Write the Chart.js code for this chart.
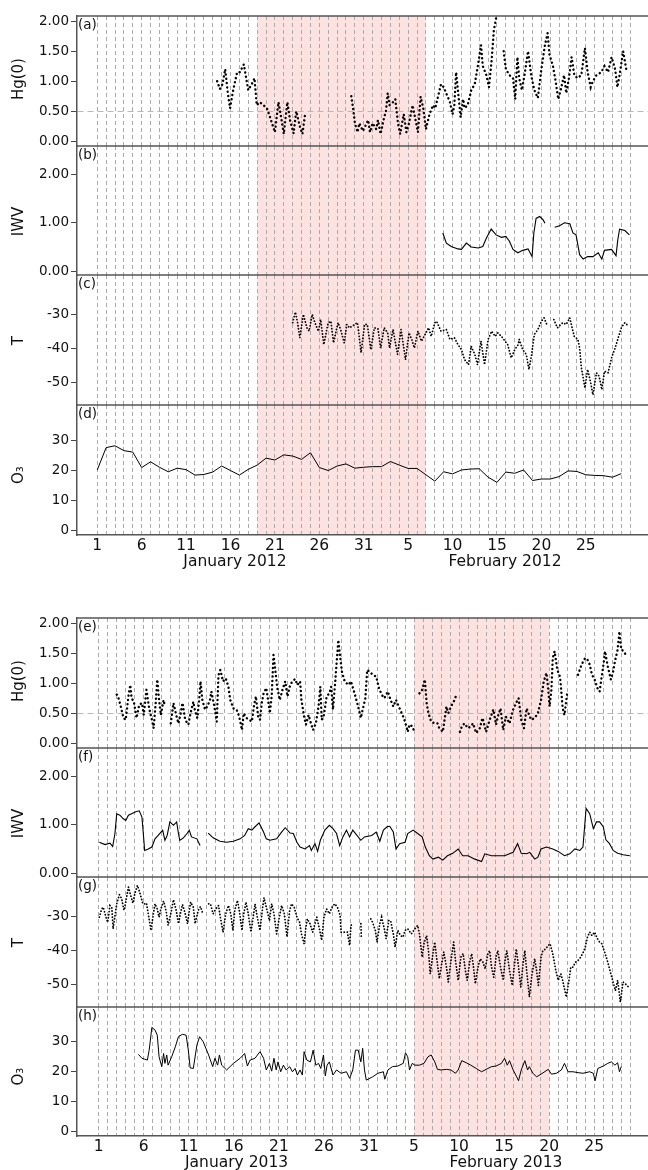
<!DOCTYPE html>
<html>
<head>
<meta charset="utf-8">
<script src="https://cdn.jsdelivr.net/npm/chart.js"></script>
<style>
  html, body { margin: 0; padding: 0; background: #fff; }
  #wrap { position: relative; width: 648px; height: 1170px; overflow: hidden; background: #fff; }
  #wrap canvas { position: absolute; left: 0; }
</style>
</head>
<body>
<div id="wrap"></div>
<script>
// x = days since 1 January (0 = Jan 1), null = gap in the record

// ---- 2012 ----
const hgDays2012 = [
  13.5,13.8,14.1,14.4,14.7,14.95,15.3,15.75,16.06,16.5,
  17.0,17.4,17.7,17.95,18.3,18.7,19.1,19.45,20.0,20.4,
  20.75,21.0,21.4,21.7,22.1,22.4,22.8,23.1,23.4,26.0,
  28.6,28.8,29.0,29.3,29.5,29.9,30.5,30.7,31.0,31.4,
  31.6,31.9,32.3,32.5,32.7,32.9,33.3,33.55,33.85,34.1,
  34.5,34.8,35.1,35.5,35.9,36.1,36.4,36.7,37.0,37.4,
  37.8,38.05,38.7,39.0,39.7,39.85,40.0,40.2,40.4,40.6,
  40.9,41.2,41.35,41.7,42.1,42.5,42.9,43.2,43.4,43.8,
  44.1,44.4,44.65,44.9,45.3,45.75,46.0,46.4,46.8,47.05,
  47.3,47.5,47.8,48.1,48.5,48.85,49.2,49.6,50.0,50.4,
  50.7,50.9,51.3,51.6,51.9,52.25,52.55,52.8,53.1,53.4,
  53.7,54.05,54.5,54.9,55.2,55.55,55.8,56.2,56.75,57.1,
  57.5,57.9,58.3,58.55,58.8,59.2,59.55,59.8];
const hgVals2012 = [
  1.00,0.87,0.95,1.20,0.80,0.55,0.85,1.15,1.15,1.28,
  0.85,0.95,1.05,0.60,0.65,0.60,0.55,0.40,0.15,0.65,
  0.35,0.12,0.65,0.35,0.13,0.50,0.25,0.12,0.45,null,
  0.75,0.55,0.30,0.15,0.30,0.17,0.35,0.15,0.30,0.20,
  0.35,0.12,0.40,0.50,0.80,0.60,0.65,0.70,0.30,0.12,
  0.45,0.15,0.30,0.60,0.30,0.15,0.74,0.55,0.20,0.45,
  0.60,0.55,0.95,0.90,0.65,0.55,0.45,0.60,1.15,0.85,
  0.40,0.70,0.55,0.60,0.85,0.95,1.30,1.60,1.25,1.10,
  0.90,1.35,1.85,2.05,null,1.50,1.20,1.10,1.05,0.70,
  1.40,1.05,0.85,1.10,1.50,1.10,0.85,0.72,1.20,1.60,
  1.80,1.45,1.25,1.00,0.70,0.90,1.10,0.80,1.05,1.40,
  1.10,1.05,1.10,1.55,1.15,0.90,1.00,1.10,1.15,1.25,
  1.15,1.40,1.20,0.90,1.10,1.50,1.20,1.25];

const iwvDays2012 = [
  38.9,39.3,39.85,40.6,41.0,41.55,42.1,42.9,43.4,43.8,
  44.35,44.9,45.5,46.0,46.4,46.8,47.35,47.9,48.5,48.95,
  49.15,49.4,49.8,50.2,50.4,51.0,51.5,52.05,52.6,53.2,
  53.55,53.9,54.3,54.7,55.2,55.8,56.4,56.8,57.1,57.9,
  58.4,58.6,58.8,59.4,59.9];
const iwvVals2012 = [
  0.79,0.58,0.51,0.46,0.45,0.58,0.50,0.48,0.51,0.68,
  0.87,0.75,0.70,0.72,0.62,0.45,0.38,0.43,0.46,0.30,
  0.79,1.09,1.13,1.06,0.99,null,0.91,0.94,1.00,0.98,
  0.79,0.75,0.34,0.25,0.30,0.30,0.38,0.25,0.43,0.45,
  0.32,0.65,0.87,0.84,0.75];

const tDays2012 = [
  22.0,22.3,22.55,22.8,23.2,23.6,23.85,24.2,24.5,24.9,
  25.15,25.5,26.0,26.3,26.6,27.1,27.4,27.8,28.1,28.4,
  29.0,29.3,29.7,30.1,30.4,30.8,31.2,31.6,31.9,32.3,
  32.7,32.9,33.3,33.8,34.2,34.7,35.1,35.4,35.7,36.1,
  36.5,36.9,37.3,37.6,38.0,38.2,38.7,39.3,39.7,40.2,
  40.6,41.0,41.35,41.8,42.1,42.5,42.8,43.2,43.6,44.0,
  44.4,44.8,45.1,45.5,45.9,46.2,46.6,47.0,47.4,47.5,
  47.9,48.3,48.6,48.9,49.2,49.6,50.0,50.3,50.6,51.0,
  51.4,51.8,52.4,52.8,53.2,53.55,53.7,54.1,54.3,54.5,
  54.9,55.2,55.55,55.8,56.2,56.5,56.8,57.1,57.5,57.9,
  58.3,58.7,59.0,59.4,59.8];
const tVals2012 = [
  -32.4,-29.3,-32.4,-36.8,-30.0,-33.9,-34.9,-30.0,-32.4,-34.9,
  -31.5,-38.8,-32.4,-32.0,-38.3,-32.4,-34.4,-38.3,-32.9,-33.9,
  -32.9,-32.4,-41.2,-32.9,-32.9,-40.3,-33.9,-34.2,-39.8,-33.9,
  -35.4,-39.8,-34.4,-41.7,-34.4,-43.2,-35.4,-37.3,-39.8,-34.9,
  -37.8,-35.9,-33.9,-36.4,-32.4,-32.0,-34.9,-34.4,-37.3,-36.8,
  -38.8,-40.3,-43.2,-44.7,-39.3,-41.7,-44.7,-37.8,-44.7,-37.3,
  -34.9,-36.4,-35.4,-36.4,-37.8,-38.8,-42.7,-40.3,-38.8,-37.3,
  -40.3,-41.7,-46.1,-41.7,-35.9,-34.4,-32.0,-31.0,-32.9,null,
  -31.5,-33.9,-32.4,-32.9,-31.0,-34.9,-36.4,-37.3,-39.8,-45.6,
  -51.5,-46.1,-50.0,-53.5,-47.1,-48.1,-52.0,-46.6,-47.1,-42.7,
  -39.8,-36.4,-33.9,-32.4,-33.4];

// daily ozone, one value per day from 1 Jan
const o3Vals2012 = [
  20.1,27.5,28.1,26.5,26.0,20.9,22.8,21.0,19.5,20.7,
  20.2,18.4,18.6,19.4,21.4,19.9,18.4,20.3,21.7,24.0,
  23.4,25.1,24.7,23.6,25.8,20.9,19.9,21.4,22.1,20.7,
  21.0,21.2,21.2,22.9,21.7,20.6,20.6,18.5,16.4,19.5,
  18.8,20.1,20.4,20.5,17.7,16.0,19.4,19.0,20.1,16.6,
  17.1,17.1,17.9,19.8,19.6,18.5,18.3,18.2,17.7,18.9];

// ---- 2013 ----
const hgDays2013 = [
  2.0,2.2,2.45,2.75,3.0,3.3,3.5,3.65,3.9,4.2,
  4.5,4.8,5.0,5.3,5.6,5.9,6.1,6.35,6.5,6.7,
  6.9,7.2,7.35,7.7,8.0,8.3,8.6,8.85,9.1,9.3,
  9.6,9.95,10.2,10.5,10.7,10.95,11.15,11.3,11.5,11.8,
  12.05,12.35,12.5,12.8,13.1,13.3,13.5,13.8,14.1,14.4,
  14.6,14.95,15.3,15.6,15.9,16.1,16.4,16.7,17.0,17.25,
  17.45,17.7,17.9,18.1,18.3,18.6,18.8,19.0,19.2,19.4,
  19.6,19.8,20.1,20.4,20.7,20.95,21.25,21.5,21.8,22.05,
  22.35,22.5,22.8,23.0,23.3,23.5,23.8,24.1,24.4,24.6,
  24.75,25.0,25.3,25.6,25.8,26.0,26.2,26.6,26.75,27.0,
  27.3,27.7,28.0,28.4,28.8,29.1,29.3,29.6,29.8,30.1,
  30.4,30.8,31.1,31.4,31.7,32.1,32.4,32.7,33.0,33.4,
  33.8,34.0,34.3,34.5,34.8,35.1,35.35,35.6,35.9,36.2,
  36.4,36.6,36.9,37.3,37.6,37.8,38.2,38.6,38.8,39.1,
  39.5,39.7,39.9,40.1,40.3,40.6,41.0,41.3,41.55,41.9,
  42.3,42.6,43.0,43.4,43.8,44.1,44.3,44.6,44.9,45.2,
  45.6,46.0,46.4,46.6,46.9,47.2,47.5,47.7,48.0,48.4,
  48.75,49.1,49.4,49.7,49.9,50.05,50.25,50.4,50.6,50.9,
  51.2,51.35,51.5,51.7,52.0,52.2,52.7,53.2,53.6,54.0,
  54.25,54.5,54.75,55.05,55.35,55.6,55.8,56.1,56.2,56.5,
  56.85,57.1,57.3,57.6,57.8,58.0,58.3,58.6];
const hgVals2013 = [
  0.81,0.75,0.61,0.42,0.39,0.78,0.97,0.75,0.69,0.42,
  0.64,0.67,0.47,0.89,0.58,0.39,0.25,0.72,1.06,0.72,
  0.47,0.72,0.61,null,0.33,0.67,0.47,0.33,0.50,0.67,
  0.39,0.31,0.50,0.69,0.53,0.42,0.72,1.03,0.72,0.56,
  0.61,0.72,0.86,0.64,0.36,1.14,1.22,1.03,1.08,0.94,
  0.72,0.58,0.56,0.44,0.22,0.50,0.42,0.39,0.36,0.64,
  0.78,0.44,0.39,0.67,0.83,0.92,0.72,0.50,0.78,1.47,
  1.22,0.94,0.72,0.89,1.03,0.78,0.97,1.03,1.07,0.97,
  1.03,0.72,0.44,0.31,0.47,0.36,0.22,0.33,0.61,0.94,
  0.39,0.47,0.78,0.83,0.94,0.56,0.92,1.72,1.50,1.19,
  1.03,0.97,1.03,0.83,0.61,0.42,0.56,0.75,1.22,1.19,
  1.14,1.11,0.92,0.81,0.75,0.86,0.72,0.61,0.72,0.58,
  0.44,0.36,0.19,0.31,0.28,0.17,null,0.83,0.89,1.06,
  0.67,0.50,0.36,0.33,0.33,0.25,0.19,0.61,0.50,0.61,
  0.72,0.81,null,0.19,0.28,0.33,0.25,0.28,0.33,0.17,
  0.25,0.42,0.19,0.39,0.56,0.31,0.44,0.58,0.22,0.44,
  0.33,0.56,0.69,0.75,0.39,0.25,0.58,0.50,0.39,0.42,
  0.50,0.72,1.03,1.17,0.89,0.61,0.89,1.42,1.53,1.22,
  1.11,0.86,0.58,0.47,0.83,0.86,null,1.14,1.31,1.42,
  1.39,1.31,1.14,1.06,0.92,0.86,1.08,1.39,1.53,1.28,
  1.06,1.19,1.36,1.56,1.86,1.56,1.53,1.44];

const iwvDays2013 = [
  0.07,0.7,1.25,1.55,1.8,2.0,2.35,2.7,3.0,3.3,
  3.65,4.1,4.5,4.8,4.95,5.1,5.5,5.9,6.25,6.6,
  7.1,7.35,7.6,7.9,8.3,8.65,8.85,9.0,9.4,9.8,
  10.05,10.3,10.9,11.25,11.7,12.15,12.7,13.45,14.2,14.95,
  15.7,16.2,16.6,17.0,17.35,17.8,18.3,18.6,19.0,19.75,
  20.3,20.7,21.25,21.6,22.0,22.35,22.9,23.4,23.6,24.0,
  24.3,24.6,25.1,25.6,26.0,26.4,26.75,27.1,27.5,27.85,
  28.2,29.1,29.5,30.3,30.8,31.2,31.6,32.0,32.3,32.7,
  33.0,33.4,34.0,34.3,34.9,35.4,35.9,36.25,36.7,37.1,
  37.7,38.2,38.7,39.3,39.9,40.4,41.0,41.75,42.5,42.85,
  43.6,44.3,45.05,45.6,46.0,46.5,46.9,47.5,47.85,48.4,
  48.75,49.1,49.7,50.4,51.0,51.7,52.3,52.85,53.4,53.75,
  54.1,54.5,54.9,55.25,55.6,56.0,56.3,56.7,57.1,57.6,
  58.2,58.95];
const iwvVals2013 = [
  0.64,0.59,0.62,0.55,0.82,1.23,1.20,1.13,1.09,1.20,
  1.23,1.27,1.29,1.16,0.82,0.47,0.50,0.54,0.71,0.78,
  0.89,0.68,0.78,1.06,0.99,1.06,0.82,0.68,0.73,0.82,
  0.89,0.75,0.71,0.57,null,0.83,0.73,0.66,0.64,0.66,
  0.71,0.78,0.92,0.89,0.96,1.04,0.85,0.71,0.68,0.71,
  0.85,0.94,0.83,0.82,0.64,0.54,0.50,0.57,0.47,0.61,
  0.45,0.68,0.89,0.99,0.92,0.82,0.57,0.75,0.89,0.75,
  0.89,0.68,0.75,0.78,0.85,0.66,0.89,0.96,0.97,0.85,
  0.50,0.61,0.64,0.82,0.89,0.82,0.75,0.54,0.36,0.29,
  0.33,0.27,0.36,0.41,0.50,0.36,0.36,0.29,0.24,0.40,
  0.36,0.36,0.36,0.40,0.43,0.61,0.41,0.40,0.43,0.29,
  0.33,0.50,0.54,0.50,0.45,0.36,0.40,0.50,0.47,0.54,
  1.34,1.23,0.92,1.06,1.06,0.96,0.69,0.61,0.47,0.41,
  0.38,0.36];

const tDays2013 = [
  0.07,0.33,0.5,0.8,1.0,1.25,1.45,1.6,2.0,2.3,
  2.55,2.8,3.0,3.3,3.5,3.8,4.0,4.3,4.6,4.9,
  5.1,5.3,5.5,5.8,6.1,6.25,6.5,6.7,6.9,7.2,
  7.5,7.7,8.0,8.3,8.6,8.85,9.1,9.3,9.6,9.85,
  10.2,10.5,10.7,11.05,11.3,11.55,11.9,12.2,12.4,12.7,
  13.0,13.3,13.5,13.8,14.1,14.4,14.65,14.9,15.1,15.4,
  15.6,15.9,16.1,16.35,16.6,16.9,17.2,17.35,17.6,17.9,
  18.2,18.35,18.6,18.95,19.2,19.45,19.75,20.05,20.3,20.6,
  20.9,21.2,21.4,21.7,22.0,22.3,22.5,22.8,23.0,23.15,
  23.45,23.75,24.0,24.2,24.5,24.75,25.0,25.3,25.6,25.9,
  26.2,26.5,26.8,26.9,27.6,27.85,28.0,28.2,28.6,29.1,
  29.15,29.7,30.2,30.4,30.7,30.9,31.2,31.4,31.7,31.9,
  32.2,32.4,32.7,32.9,33.2,33.5,33.8,34.0,34.3,34.7,
  35.1,35.4,35.6,35.9,36.1,36.4,36.6,36.8,37.1,37.3,
  37.5,37.8,38.1,38.3,38.6,38.8,39.1,39.4,39.6,39.9,
  40.2,40.45,40.7,40.9,41.2,41.4,41.6,41.8,42.1,42.35,
  42.65,42.9,43.2,43.4,43.6,43.85,44.1,44.3,44.6,44.9,
  45.1,45.3,45.6,45.9,46.2,46.35,46.6,46.85,47.1,47.3,
  47.5,47.8,48.1,48.4,48.6,48.8,49.1,49.3,49.6,49.9,
  50.1,50.4,50.7,51.0,51.3,51.5,51.9,52.2,52.4,52.65,
  52.9,53.2,53.5,53.8,54.0,54.25,54.5,54.75,55.05,55.35,
  55.6,55.85,56.1,56.4,56.7,56.95,57.2,57.35,57.6,57.9,
  58.2,58.45,58.75,59.0];
const tVals2013 = [
  -30.2,-27.8,-27.3,-30.2,-31.7,-26.8,-27.3,-33.6,-26.3,-23.6,
  -24.8,-28.2,-25.8,-21.4,-23.4,-26.1,-23.4,-20.9,-23.4,-26.3,
  -26.3,-26.1,-29.2,-34.1,-28.7,-26.3,-27.8,-30.2,-27.8,-25.5,
  -28.7,-32.6,-29.2,-25.1,-28.2,-32.1,-28.7,-26.5,-29.2,-32.1,
  -25.8,-27.3,-32.1,-28.2,-27.1,-29.2,null,-26.3,-26.3,-29.2,
  -27.8,-26.8,-30.2,-34.6,-29.2,-26.8,-29.2,-34.1,-28.2,-25.3,
  -28.2,-34.1,-29.2,-25.8,-29.2,-34.6,-29.2,-26.3,-30.2,-34.1,
  -27.3,-24.5,-27.3,-31.2,-26.3,-29.2,-35.1,-30.2,-26.8,-29.2,
  -36.0,-28.2,-26.3,-27.3,-30.2,-31.7,-35.1,-38.0,-33.1,-30.7,
  -32.1,-34.6,-32.1,-30.2,-33.6,-37.0,-30.2,-27.8,-29.2,-27.3,
  -26.3,-27.3,-29.7,-34.6,-34.6,-38.5,-32.6,-32.1,null,-32.1,
  -36.0,null,-30.7,-31.7,-34.1,-37.5,-32.1,-30.2,-33.6,-36.5,
  -31.2,-31.2,-35.1,-39.0,-34.1,-35.6,-36.0,-34.1,-33.6,-35.1,
  -33.6,-32.6,-35.1,-41.9,-38.0,-35.6,-40.0,-46.8,-40.9,-37.5,
  -41.9,-48.2,-43.4,-40.4,-44.8,-49.2,-42.9,-37.5,-42.9,-48.7,
  -41.9,-40.9,-45.8,-48.7,-42.9,-40.9,-44.8,-49.7,-44.8,-42.4,
  -43.4,-45.3,-40.9,-40.0,-44.8,-47.8,-41.9,-40.0,-44.8,-48.7,
  -42.9,-40.0,-45.8,-50.2,-42.9,-39.5,-44.8,-50.7,-43.9,-40.0,
  -45.8,-53.6,-46.8,-42.4,-45.8,-50.2,-41.9,-40.0,-39.5,-38.5,
  -38.0,-40.9,-45.3,-48.7,-46.8,-48.7,-53.6,-48.7,-44.8,-44.8,
  -43.4,-42.9,-41.9,-40.4,-39.0,-36.0,-34.6,-35.6,-34.6,-36.5,
  -37.5,-38.0,-40.0,-42.4,-45.3,-47.8,-50.2,-51.7,-48.7,-55.1,
  -49.2,-49.7,-50.5,-50.7];

const o3Days2013 = [
  4.4,4.8,5.1,5.4,5.6,5.9,6.25,6.5,6.7,7.0,
  7.2,7.35,7.55,7.7,8.1,8.5,8.85,9.3,9.7,9.95,
  10.15,10.5,10.9,11.2,11.6,12.2,12.65,12.9,13.2,13.4,
  13.65,14.2,14.95,15.7,16.2,16.5,16.8,17.35,17.9,18.3,
  18.6,18.95,19.2,19.45,19.7,19.9,20.2,20.5,20.8,21.2,
  21.5,21.8,22.05,22.35,22.6,22.8,23.1,23.5,23.8,24.1,
  24.4,24.65,24.95,25.15,25.35,25.6,26.0,26.4,26.9,27.5,
  27.85,28.2,28.5,28.8,29.1,29.3,29.5,29.7,30.4,31.0,
  31.6,31.75,32.1,32.6,33.2,33.8,34.05,34.3,34.5,34.8,
  35.1,35.6,36.1,36.55,36.9,37.3,37.6,38.0,38.6,39.1,
  39.6,39.9,40.3,40.8,41.3,41.9,42.5,43.0,43.6,44.1,
  44.7,45.05,45.35,45.6,46.0,46.4,46.6,46.9,47.3,47.6,
  47.8,48.2,48.6,49.1,49.9,50.25,50.8,51.35,51.7,52.1,
  52.65,53.2,53.75,54.5,54.9,55.1,55.4,56.0,56.5,56.9,
  57.3,57.6,57.8,58.0];
const o3Vals2013 = [
  25.8,24.5,24.2,23.9,27.2,34.8,33.9,32.2,25.0,21.7,
  26.1,22.8,25.6,22.2,25.0,28.3,31.7,32.5,32.2,27.2,
  21.3,21.1,28.9,31.7,30.0,25.6,21.7,24.5,22.2,25.6,
  22.2,20.6,22.8,24.5,26.1,21.9,23.9,24.5,26.7,24.5,
  20.6,22.8,20.2,24.5,20.6,23.3,20.0,22.2,20.6,21.7,
  20.0,21.1,18.9,20.6,18.9,26.7,23.9,23.3,27.2,22.2,
  22.8,21.1,25.6,18.6,22.2,23.3,18.9,20.6,19.5,20.0,
  17.8,20.6,27.2,27.2,23.3,27.8,20.6,17.2,18.3,19.5,
  20.0,17.5,20.6,21.7,21.9,22.8,26.3,25.0,20.6,22.8,
  22.2,22.2,22.8,25.0,25.6,23.3,20.8,20.6,20.8,20.6,
  19.5,20.6,23.7,23.0,22.2,21.1,20.0,20.8,21.7,21.9,
  22.8,24.5,22.2,23.7,20.6,18.3,17.0,20.6,23.7,20.6,
  21.7,19.5,18.3,19.2,20.8,19.2,19.5,20.6,22.8,20.0,
  20.0,19.7,19.5,20.0,19.5,17.0,21.1,21.9,22.8,23.3,
  22.2,23.0,20.0,21.7];

// shaded periods [start day, end day]
const band2012 = [18, 37];
const band2013 = [35, 50];

// axis ticks
const hgTicks = [0, 0.5, 1, 1.5, 2];
const iwvTicks = [0, 1, 2];
const tTicks = [-50, -40, -30];
const o3Ticks = [0, 10, 20, 30];
const xLabelDays = [0, 5, 10, 15, 20, 25, 30, 35, 40, 45, 50, 55];
const xLabels = ['1','6','11','16','21','26','31','5','10','15','20','25'];

Chart.defaults.font.family = '"DejaVu Sans", sans-serif';
Chart.defaults.color = '#111';

const LEFT = 77, PAD = 12, AXIS_H = 42;
const wrap = document.getElementById('wrap');

const kinds = {
  hg:  {title: 'Hg(0)', frac: 0.485, min: -0.08, max: 2.085, ticks: hgTicks, fmt: v => v.toFixed(2), ref: 0.5,
        style: {borderWidth: 2.4, borderDash: [0.1, 4.2], borderCapStyle: 'round'}},
  iwv: {title: 'IWV', frac: 0.585, min: -0.08, max: 2.59, ticks: iwvTicks, fmt: v => v.toFixed(2),
        style: {borderWidth: 1.1}},
  t:   {title: 'T', frac: 0.505, min: -56.5, max: -18.45, ticks: tTicks, fmt: v => String(v),
        style: {borderWidth: 1.8, borderDash: [0.1, 3.0], borderCapStyle: 'round'}},
  o3:  {title: 'O₃', frac: 0.54, min: -1.43, max: 41.6, ticks: o3Ticks, fmt: v => String(v),
        style: {borderWidth: 1}}
};

const pairs = (xs, ys) => xs.map((x, i) => ({x: x, y: ys[i]}));

const groups = [
  {edges: [16, 146, 275, 405, 535], xMin: -2.28, xMax: 62.0, lastDay: 60, band: band2012,
   months: [[15.5, 'January 2012'], [45.9, 'February 2012']], letters: ['(a)', '(b)', '(c)', '(d)'],
   series: [['hg', pairs(hgDays2012, hgVals2012)], ['iwv', pairs(iwvDays2012, iwvVals2012)],
            ['t', pairs(tDays2012, tVals2012)], ['o3', o3Vals2012.map((v, i) => ({x: i, y: v}))]]},
  {edges: [618, 748, 877, 1007, 1136], xMin: -2.41, xMax: 60.97, lastDay: 59, band: band2013,
   months: [[15.3, 'January 2013'], [45.2, 'February 2013']], letters: ['(e)', '(f)', '(g)', '(h)'],
   series: [['hg', pairs(hgDays2013, hgVals2013)], ['iwv', pairs(iwvDays2013, iwvVals2013)],
            ['t', pairs(tDays2013, tVals2013)], ['o3', pairs(o3Days2013, o3Vals2013)]]}
];

// shading, frame line, panel letter, y title and month names
const decor = {
  id: 'decor',
  beforeDraw(chart, args, o) {
    const {ctx, chartArea: a, scales: {x}} = chart;
    const x0 = x.getPixelForValue(o.band[0]), x1 = x.getPixelForValue(o.band[1]);
    ctx.save();
    ctx.fillStyle = '#fde2e2';
    ctx.fillRect(x0, a.top, x1 - x0, a.bottom - a.top);
    ctx.restore();
  },
  afterDraw(chart, args, o) {
    const {ctx, chartArea: a, scales: {x}} = chart;
    ctx.save();
    ctx.strokeStyle = '#555';
    ctx.lineWidth = 1.5;
    ctx.beginPath();
    ctx.moveTo(a.left, a.top);
    ctx.lineTo(a.right, a.top);
    ctx.stroke();
    ctx.fillStyle = '#111';
    ctx.textBaseline = 'middle';
    ctx.textAlign = 'left';
    ctx.font = '13.5px "DejaVu Sans"';
    ctx.fillText(o.letter, a.left + 1, a.top + 9);
    ctx.save();
    ctx.translate(19, a.top + (a.bottom - a.top) * o.frac);
    ctx.rotate(-Math.PI / 2);
    ctx.textAlign = 'center';
    ctx.font = '15px "DejaVu Sans"';
    ctx.fillText(o.title, 0, 0);
    ctx.restore();
    if (o.months) {
      ctx.textAlign = 'center';
      ctx.font = '15.5px "DejaVu Sans"';
      o.months.forEach(m => ctx.fillText(m[1], x.getPixelForValue(m[0]), a.bottom + 27));
    }
    ctx.restore();
  }
};

groups.forEach(g => {
  const gridDays = [];
  for (let d = 0; d <= g.lastDay; d++) gridDays.push(d);
  g.series.forEach((s, j) => {
    const k = kinds[s[0]];
    const last = j === g.series.length - 1;
    const top = g.edges[j], bottom = g.edges[j + 1];
    const c = document.createElement('canvas');
    c.width = 648;
    c.height = bottom - top + PAD + (last ? AXIS_H : PAD);
    c.style.top = (top - PAD) + 'px';
    wrap.appendChild(c);

    new Chart(c, {
      type: 'line',
      data: {
        datasets: [Object.assign({
          data: s[1],
          borderColor: '#000',
          pointRadius: 0,
          tension: 0,
          spanGaps: false
        }, k.style)]
      },
      options: {
        responsive: false,
        animation: false,
        devicePixelRatio: 1,
        events: [],
        layout: {padding: {top: PAD, bottom: last ? 0 : PAD, left: 0, right: 0}},
        plugins: {
          legend: {display: false},
          tooltip: {enabled: false},
          decor: {band: g.band, letter: g.letters[j], title: k.title, frac: k.frac,
                  months: last ? g.months : null}
        },
        scales: {
          x: {
            type: 'linear',
            min: g.xMin,
            max: g.xMax,
            afterFit: sc => { sc.height = last ? AXIS_H : 0; },
            afterBuildTicks: sc => { sc.ticks = gridDays.map(v => ({value: v})); },
            ticks: {
              display: last,
              autoSkip: false,
              maxRotation: 0,
              padding: 2,
              font: {size: 15.5},
              callback: v => { const i = xLabelDays.indexOf(v); return i < 0 ? '' : xLabels[i]; }
            },
            grid: {color: '#aaaaaa', lineWidth: 1, drawTicks: false},
            border: {display: last, color: '#555', width: 1.5, dash: [4, 3]}
          },
          y: {
            min: k.min,
            max: k.max,
            afterFit: sc => { sc.width = LEFT; },
            afterBuildTicks: sc => { sc.ticks = k.ticks.map(v => ({value: v})); },
            ticks: {padding: 2, font: {size: 13.5}, callback: v => k.fmt(v)},
            grid: {
              color: cx => (k.ref !== undefined && cx.tick && cx.tick.value === k.ref) ? '#b8b8b8' : 'rgba(0,0,0,0)',
              tickColor: '#444',
              tickLength: 6,
              lineWidth: 1
            },
            border: {color: '#555', width: 1.5, dash: [6, 4]}
          }
        }
      },
      plugins: [decor]
    });
  });
});
</script>
</body>
</html>
